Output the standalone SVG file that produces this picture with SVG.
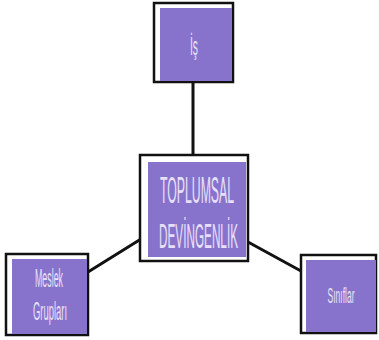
<svg xmlns="http://www.w3.org/2000/svg" width="379" height="340" viewBox="0 0 379 340">
<style>
.frame{fill:#fff;stroke:#111;stroke-width:2.5}
.fill{fill:#8773cb}
.lbl{font-family:"Liberation Sans",Arial,sans-serif;fill:#e8e0fa;text-anchor:middle}
.conn{stroke:#111;stroke-width:3;fill:none;stroke-linecap:round}
</style>
<rect width="379" height="340" fill="#fff"/>
<g id="connectors">
<line class="conn" x1="193" y1="82" x2="193" y2="155"/>
<line class="conn" x1="88" y1="272" x2="141" y2="239"/>
<line class="conn" x1="301" y1="271" x2="248" y2="242"/>
</g>
<g id="is">
<rect class="frame" x="154" y="3" width="79" height="79"/>
<rect class="fill" x="160" y="8" width="72" height="73"/>
<text class="lbl" x="194" y="55" font-size="25" textLength="8" lengthAdjust="spacingAndGlyphs">İş</text>
</g>
<g id="toplumsal">
<rect class="frame" x="140" y="155" width="108" height="106"/>
<rect class="fill" x="148" y="162" width="98" height="95"/>
<text class="lbl" x="197" y="203" font-size="36" textLength="74" lengthAdjust="spacingAndGlyphs">TOPLUMSAL</text>
<text class="lbl" x="198.5" y="248" font-size="35" textLength="79" lengthAdjust="spacingAndGlyphs">DEVİNGENLİK</text>
</g>
<g id="meslek">
<rect class="frame" x="6" y="254" width="82" height="81"/>
<rect class="fill" x="12" y="259" width="75" height="75"/>
<text class="lbl" x="49" y="287" font-size="26" textLength="28" lengthAdjust="spacingAndGlyphs">Meslek</text>
<text class="lbl" x="50" y="320" font-size="25" textLength="34" lengthAdjust="spacingAndGlyphs">Grupları</text>
</g>
<g id="siniflar">
<rect class="frame" x="301" y="255" width="75" height="78"/>
<rect class="fill" x="306" y="260" width="70" height="72"/>
<text class="lbl" x="341" y="303" font-size="22" textLength="27" lengthAdjust="spacingAndGlyphs">Sınıflar</text>
</g>
</svg>
